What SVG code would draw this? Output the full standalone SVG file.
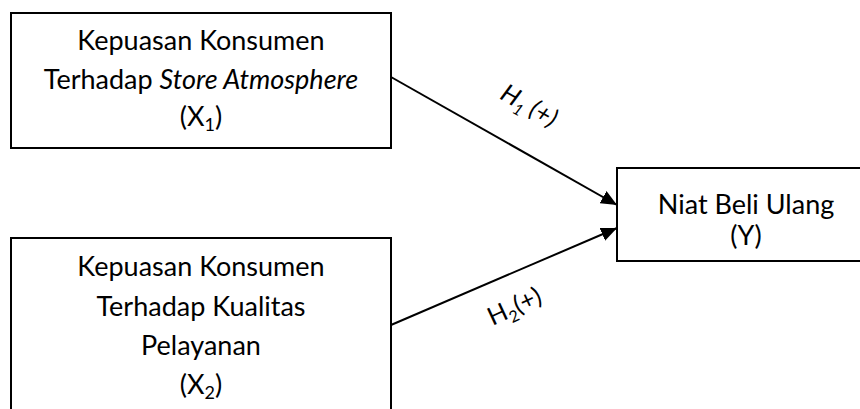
<svg xmlns="http://www.w3.org/2000/svg" width="860" height="409" viewBox="0 0 860 409">
<style>
.box{fill:#fff;stroke:#000;stroke-width:2}
.t{font-family:Lato,"Liberation Sans",sans-serif;font-size:27px;fill:#000;text-anchor:middle}
.lbl{font-family:Lato,"Liberation Sans",sans-serif;font-size:25px;font-style:italic;fill:#000;text-anchor:middle}
.edge{stroke:#000;stroke-width:2;fill:none}
</style>
<defs>
<marker id="arr" markerWidth="16" markerHeight="14" refX="16" refY="7" orient="auto" markerUnits="userSpaceOnUse" viewBox="0 0 16 14">
<path d="M0,0 L16,7 L0,14 z" fill="#000"/>
</marker>
</defs>
<g id="connectors">
<line class="edge" x1="391" y1="77" x2="617" y2="205" marker-end="url(#arr)"/>
<line class="edge" x1="391" y1="325" x2="617" y2="228" marker-end="url(#arr)"/>
<text class="lbl" transform="translate(525,113) rotate(29.4)">H<tspan font-size="16" dy="6">1</tspan><tspan dy="-6"> (+)</tspan></text>
<text class="lbl" transform="translate(518,314) rotate(-25)" style="font-style:normal">H<tspan font-size="16" dy="6">2</tspan><tspan dy="-6">(+)</tspan></text>
</g>
<g id="x1">
<rect class="box" x="11" y="13" width="380" height="135"/>
<text class="t" x="201" y="50">Kepuasan Konsumen</text>
<text class="t" x="201" y="89">Terhadap <tspan font-style="italic">Store Atmosphere</tspan></text>
<text class="t" x="201" y="126">(X<tspan font-size="18" dy="5">1</tspan><tspan dy="-5">)</tspan></text>
</g>
<g id="x2">
<rect class="box" x="11" y="238" width="380" height="190"/>
<text class="t" x="201" y="276">Kepuasan Konsumen</text>
<text class="t" x="201" y="316">Terhadap Kualitas</text>
<text class="t" x="201" y="355">Pelayanan</text>
<text class="t" x="201" y="394">(X<tspan font-size="18" dy="5">2</tspan><tspan dy="-5">)</tspan></text>
</g>
<g id="y">
<rect class="box" x="617" y="168" width="260" height="93"/>
<text class="t" x="746" y="214">Niat Beli Ulang</text>
<text class="t" x="746" y="245">(Y)</text>
</g>
</svg>
